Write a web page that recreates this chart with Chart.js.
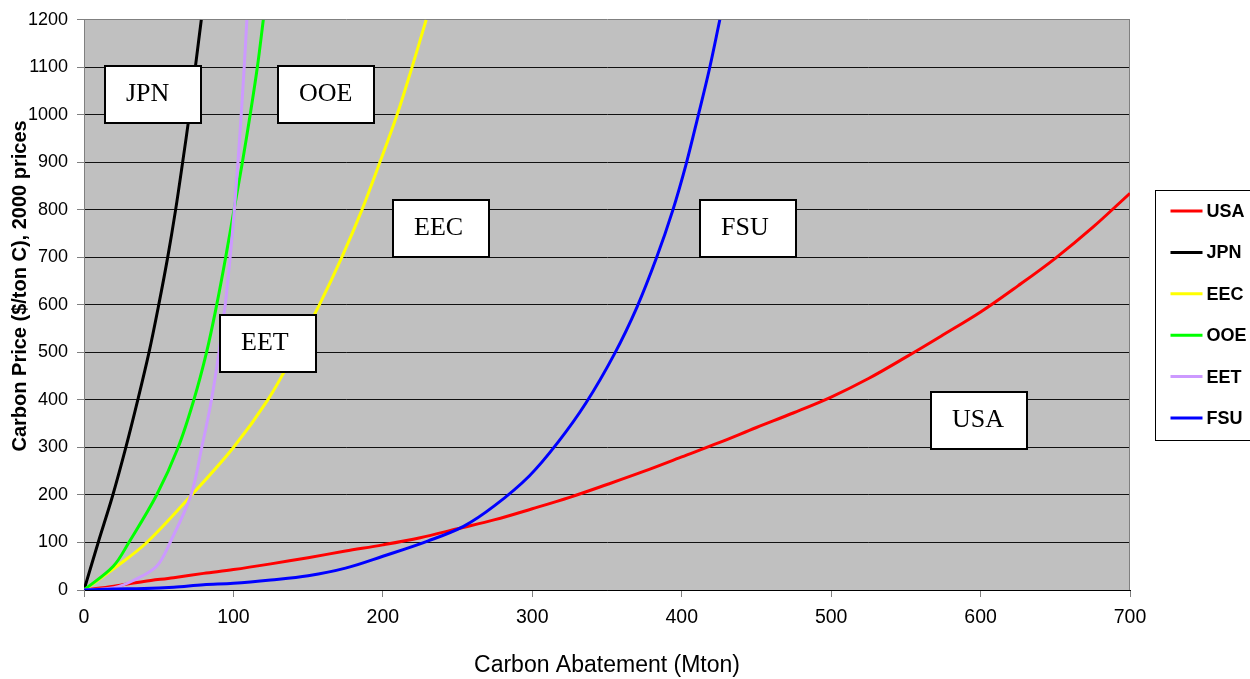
<!DOCTYPE html>
<html>
<head>
<meta charset="utf-8">
<script src="https://cdn.jsdelivr.net/npm/chart.js@4.4.1/dist/chart.umd.min.js"></script>
<style>
  body { margin: 0; background: #fff; }
  #wrap { width: 1250px; height: 679px; }
</style>
</head>
<body>
<div id="wrap"><canvas id="myChart" width="1250" height="679"></canvas></div>
<script>
// Carbon abatement (Mton) vs carbon price ($/ton C)
const usaX = [0, 20, 40, 60, 80, 100, 125, 150, 175, 200, 225, 250, 275, 300, 325, 350, 375, 400, 425, 450, 475, 500, 525, 550, 575, 600, 625, 650, 675, 700];
const usaY = [0, 8, 18, 26, 35, 43, 55, 68, 82, 95, 110, 129, 148, 171, 195, 222, 250, 280, 310, 342, 373, 406, 445, 490, 537, 585, 640, 698, 763, 835];

const jpnX = [0, 9.5, 19.3, 28, 36, 43.5, 50, 56, 61.3, 66, 70.5, 74.5, 78.5];
const jpnY = [0, 100, 200, 300, 400, 500, 600, 700, 800, 900, 1000, 1100, 1200];

const eecX = [0, 22, 42, 72, 100, 123, 141, 157.5, 172.5, 186, 198, 209.5, 219.5, 229];
const eecY = [0, 50, 100, 200, 300, 400, 500, 600, 700, 800, 900, 1000, 1100, 1200];

const ooeX = [0, 19.6, 30, 48.6, 63, 73.5, 82, 88.8, 94.8, 100.4, 106, 111.2, 116, 120];
const ooeY = [0, 50, 100, 200, 300, 400, 500, 600, 700, 800, 900, 1000, 1100, 1200];

const eetX = [0, 20, 33, 48.6, 57.6, 71.6, 78.8, 85.3, 90.3, 94.5, 97.8, 100.6, 103, 105.2, 107.2, 109];
const eetY = [0, 5, 20, 50, 100, 200, 300, 400, 500, 600, 700, 800, 900, 1000, 1100, 1200];

const fsuX = [0, 20, 40, 60, 80, 100, 125, 150, 175, 200, 230, 254, 275, 298, 317, 336, 355, 370, 383, 394, 403, 411, 418.5, 425.5];
const fsuY = [0, 2, 3, 6, 11, 14, 21, 30, 46, 71, 103, 134, 178, 240, 310, 394, 497, 595, 698, 799, 897, 998, 1096, 1200];

const seriesNames = ['USA', 'JPN', 'EEC', 'OOE', 'EET', 'FSU'];
const seriesColors = ['#FF0000', '#000000', '#FFFF00', '#00FF00', '#CC99FF', '#0000FF'];

// text boxes on the plot, anchored at their top-left corner in data units
const noteLabels = ['JPN', 'OOE', 'EEC', 'EET', 'FSU', 'USA'];
const noteAnchorX = [13.9, 129.7, 206.6, 90.8, 412.3, 566.7];
const noteAnchorY = [1102, 1102, 820, 578, 820, 416];

const yTitle = 'Carbon Price ($/ton C), 2000 prices';
const xTitle = 'Carbon Abatement (Mton)';

const FONT = "Arial, 'Liberation Sans', sans-serif";

function toPoints(xs, ys) {
    return xs.map((x, i) => ({ x: x, y: ys[i] }));
}

const seriesPoints = [
    toPoints(usaX, usaY),
    toPoints(jpnX, jpnY),
    toPoints(eecX, eecY),
    toPoints(ooeX, ooeY),
    toPoints(eetX, eetY),
    toPoints(fsuX, fsuY)
];

// grey plot background and grey right border
const plotBg = {
    id: 'plotBg',
    beforeDraw(chart) {
        const { ctx, chartArea: a } = chart;
        ctx.save();
        ctx.fillStyle = '#C0C0C0';
        ctx.fillRect(a.left, a.top, a.right - a.left, a.bottom - a.top);
        ctx.restore();
    },
    beforeDatasetsDraw(chart) {
        const { ctx, chartArea: a } = chart;
        ctx.save();
        ctx.strokeStyle = '#808080';
        ctx.lineWidth = 1;
        ctx.beginPath();
        ctx.moveTo(a.right - 0.5, a.top);
        ctx.lineTo(a.right - 0.5, a.bottom);
        ctx.stroke();
        ctx.restore();
    }
};

// white label boxes drawn over the lines
const noteBoxes = {
    id: 'noteBoxes',
    afterDatasetsDraw(chart) {
        const { ctx, scales } = chart;
        ctx.save();
        ctx.font = "26px 'Liberation Serif', 'Times New Roman', serif";
        ctx.textBaseline = 'alphabetic';
        noteLabels.forEach((label, i) => {
            const px = Math.round(scales.x.getPixelForValue(noteAnchorX[i]));
            const py = Math.round(scales.y.getPixelForValue(noteAnchorY[i]));
            ctx.fillStyle = '#FFFFFF';
            ctx.fillRect(px, py, 96, 57);
            ctx.strokeStyle = '#000000';
            ctx.lineWidth = 2;
            ctx.strokeRect(px, py, 96, 57);
            ctx.fillStyle = '#000000';
            ctx.fillText(label, px + 21, py + 35);
        });
        ctx.restore();
    }
};

// legend box on the right side, and the rotated y title (sits a bit above centre)
const sideLegend = {
    id: 'sideLegend',
    afterDraw(chart) {
        const { ctx, chartArea: a } = chart;
        const left = a.right + 25.5;
        const top = 190.5;
        ctx.save();
        ctx.fillStyle = '#FFFFFF';
        ctx.fillRect(left, top, 140, 250);
        ctx.strokeStyle = '#000000';
        ctx.lineWidth = 1;
        ctx.strokeRect(left, top, 140, 250);
        ctx.font = 'bold 18px ' + FONT;
        ctx.textBaseline = 'middle';
        seriesNames.forEach((name, i) => {
            const y = 211 + i * 41.4;
            ctx.strokeStyle = seriesColors[i];
            ctx.lineWidth = 3;
            ctx.beginPath();
            ctx.moveTo(left + 15, y);
            ctx.lineTo(left + 47, y);
            ctx.stroke();
            ctx.fillStyle = '#000000';
            ctx.fillText(name, left + 51, y + 1);
        });

        ctx.translate(20, (a.top + a.bottom) / 2 - 19);
        ctx.rotate(-Math.PI / 2);
        ctx.font = 'bold 20px ' + FONT;
        ctx.textAlign = 'center';
        ctx.textBaseline = 'middle';
        ctx.fillText(yTitle, 0, 0);
        ctx.restore();
    }
};

const ctx = document.getElementById('myChart').getContext('2d');

const myChart = new Chart(ctx, {
    type: 'line',
    data: {
        datasets: seriesNames.map((name, i) => ({
            label: name,
            data: seriesPoints[i],
            borderColor: seriesColors[i],
            backgroundColor: seriesColors[i],
            borderWidth: 3,
            pointRadius: 0,
            fill: false,
            tension: 0.35,
            order: seriesNames.length - 1 - i
        }))
    },
    options: {
        responsive: false,
        animation: false,
        layout: {
            padding: { left: 0, top: 19, right: 120, bottom: 0 }
        },
        scales: {
            x: {
                type: 'linear',
                min: 0,
                max: 700,
                ticks: {
                    stepSize: 100,
                    color: '#000',
                    padding: 9,
                    font: { family: FONT, size: 19.5 },
                    callback: (v) => String(v)
                },
                grid: {
                    drawOnChartArea: false,
                    tickLength: 7,
                    tickColor: '#808080'
                },
                border: { color: '#000', width: 1 },
                title: {
                    display: true,
                    text: xTitle,
                    color: '#000',
                    font: { family: FONT, size: 23 },
                    padding: { top: 0, bottom: 0 }
                },
                afterFit(scale) { scale.height = 89; }
            },
            y: {
                min: 0,
                max: 1200,
                ticks: {
                    stepSize: 100,
                    color: '#000',
                    padding: 9,
                    font: { family: FONT, size: 18 },
                    callback: (v) => String(v)
                },
                grid: {
                    color: (c) => (c.tick && c.tick.value === 1200 ? '#808080' : '#111'),
                    tickLength: 7,
                    tickColor: '#808080'
                },
                border: { color: '#808080', width: 1 },
                afterFit(scale) { scale.width = 84; }
            }
        },
        plugins: {
            legend: { display: false },
            tooltip: { enabled: false }
        }
    },
    plugins: [plotBg, noteBoxes, sideLegend]
});
</script>
</body>
</html>
